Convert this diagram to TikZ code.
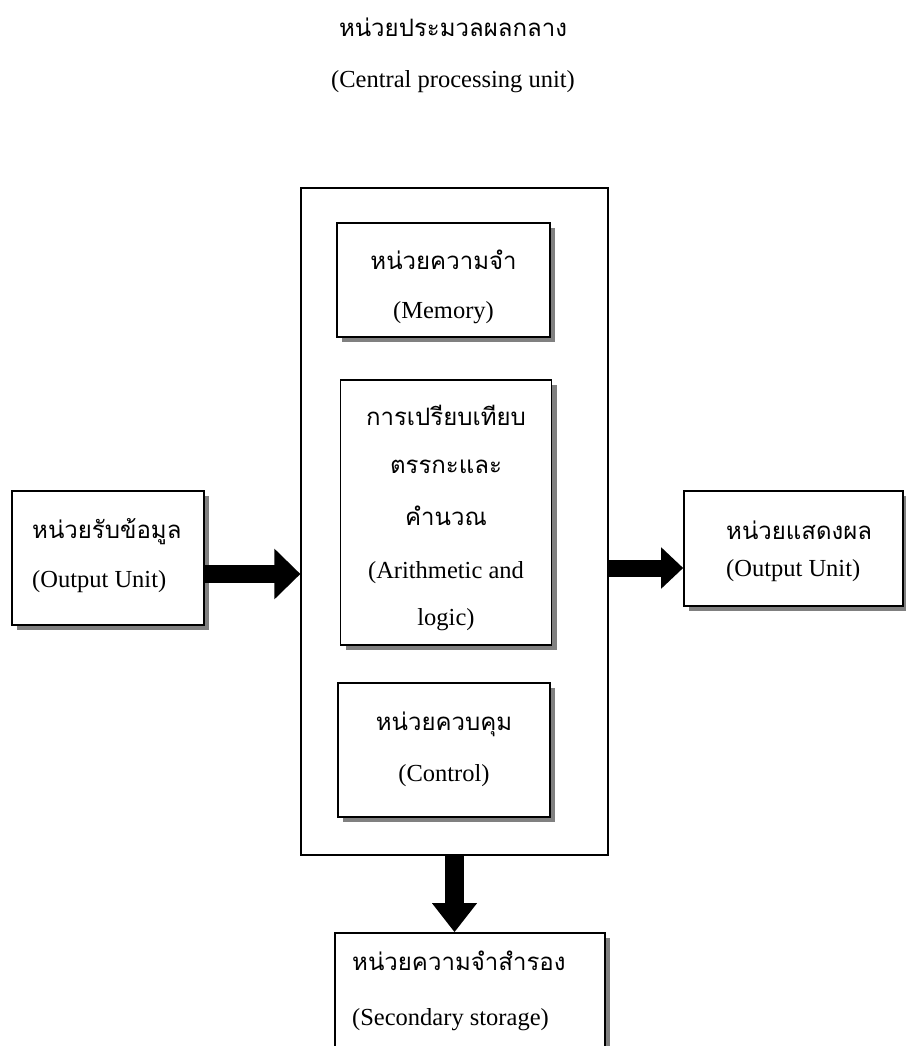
\documentclass[tikz,border=0pt]{standalone}
\usepackage{fontspec}
\setmainfont{Liberation Serif}
\newfontfamily\thaifont[Script=Thai]{Loma}
\usetikzlibrary{arrows.meta,shadows}

\begin{document}
\begin{tikzpicture}[x=1pt,y=-1pt,
  box/.style={draw, line width=1.6pt, fill=white, inner sep=0pt},
  unitbox/.style={box, drop shadow={shadow xshift=5pt, shadow yshift=-5pt, fill=black!50, opacity=1}},
  th/.style={font=\thaifont\fontsize{24}{29}\selectfont, inner sep=0pt},
  en/.style={font=\fontsize{24.5}{29}\selectfont, inner sep=0pt},
  flow/.style={line width=#1},
]
\useasboundingbox (0,0) rectangle (905,1046);

% title
\node[th, anchor=base] (titleth) at (453,37) {หน่วยประมวลผลกลาง};
\node[en, anchor=base] (titleen) at (453,88) {(Central processing unit)};

% central processing unit frame
\node[box, line width=1.2pt, minimum width=307pt, minimum height=667pt] (cpu) at (454.5,521.5) {};

% inner units
\node[unitbox, minimum width=213pt, minimum height=114pt] (mem) at (443.5,280) {};
\node[unitbox, minimum width=211pt, minimum height=265pt] (alu) at (446,512.5) {};
\node[unitbox, minimum width=212pt, minimum height=134pt] (ctl) at (444,750) {};

% outer units
\node[unitbox, minimum width=192pt, minimum height=134pt] (in) at (108,558) {};
\node[unitbox, minimum width=219pt, minimum height=115pt] (out) at (793.5,548.5) {};
\node[unitbox, minimum width=270pt, minimum height=167pt] (store) at (470,1016.5) {};

% labels
\node[th, anchor=base] (memth) at (443.5,269) {หน่วยความจำ};
\node[en, anchor=base] (memen) at (443.5,318) {(Memory)};

\node[th, anchor=base] (aluth1) at (446,425) {การเปรียบเทียบ};
\node[th, anchor=base] (aluth2) at (446,473) {ตรรกะและ};
\node[th, anchor=base] (aluth3) at (446,525) {คำนวณ};
\node[en, anchor=base] (aluen1) at (446,578) {(Arithmetic and};
\node[en, anchor=base] (aluen2) at (446,625) {logic)};

\node[th, anchor=base] (ctlth) at (444,730) {หน่วยควบคุม};
\node[en, anchor=base] (ctlen) at (444,781) {(Control)};

\node[th, anchor=base west] (inth) at (32,538) {หน่วยรับข้อมูล};
\node[en, anchor=base west] (inen) at (32,587) {(Output Unit)};

\node[th, anchor=base west] (outth) at (726,539) {หน่วยแสดงผล};
\node[en, anchor=base west] (outen) at (726,576) {(Output Unit)};

\node[th, anchor=base west] (storeth) at (352,970) {หน่วยความจำสำรอง};
\node[en, anchor=base west] (storeen) at (352,1025) {(Secondary storage)};

% data flow arrows
\coordinate (inA) at ([yshift=-16pt]in.east);
\draw[flow=18pt, -{Triangle[length=26pt,width=49pt]}] (inA) -- (inA -| cpu.west);

\coordinate (outA) at ([yshift=-19.5pt]out.west);
\draw[flow=17pt, -{Triangle[length=22pt,width=40pt]}] (outA -| cpu.east) -- (outA);

\draw[flow=19pt, -{Triangle[length=29pt,width=43pt]}] (cpu.south) -- (cpu.south |- store.north);
\end{tikzpicture}
\end{document}
